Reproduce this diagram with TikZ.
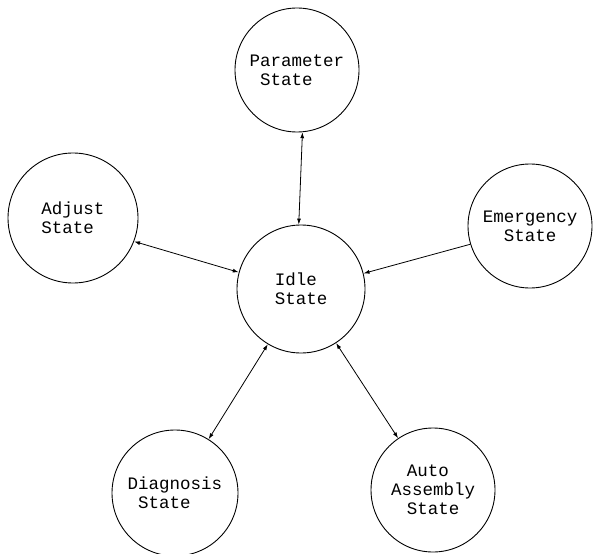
\documentclass[tikz,border=0pt]{standalone}
\usepackage{fontspec}
\setmonofont{Liberation Mono}
\usetikzlibrary{arrows.meta}
\begin{document}
\begin{tikzpicture}[x=1pt,y=-1pt,
  statenode/.style={draw=black,line width=0.9pt,circle,inner sep=0pt,align=left,
    font=\ttfamily\fontsize{17.5}{19}\selectfont},
  link/.style={line width=0.8pt},
  tip/.tip={Latex[length=6pt,width=4pt]}]
\useasboundingbox (0,0) rectangle (593,553);
\node[statenode,minimum size=124pt] (param) at (297,70) {Parameter\\\hspace{0.6em}State};
\node[statenode,minimum size=130pt] (adjust) at (73,218) {Adjust\\State};
\node[statenode,minimum size=128pt] (idle) at (301,289) {Idle\\State};
\node[statenode,minimum size=124pt] (emerg) at (530,226) {Emergency\\\hspace{1.2em}State};
\node[statenode,minimum size=126pt] (diag) at (175,493) {Diagnosis\\\hspace{0.6em}State};
\node[statenode,minimum size=124pt] (auto) at (433,490) {\hspace{0.9em}Auto\\Assembly\\\hspace{0.9em}State};
\draw[link,{tip}-{tip}] (param.275) -- (idle.92);
\draw[link,{tip}-{tip}] (adjust.-21) -- (idle.165);
\draw[link,-{tip}] (emerg.197) -- (idle.14);
\draw[link,{tip}-{tip}] (diag.58) -- (idle.239);
\draw[link,{tip}-{tip}] (auto.124) -- (idle.303);
\end{tikzpicture}
\end{document}
